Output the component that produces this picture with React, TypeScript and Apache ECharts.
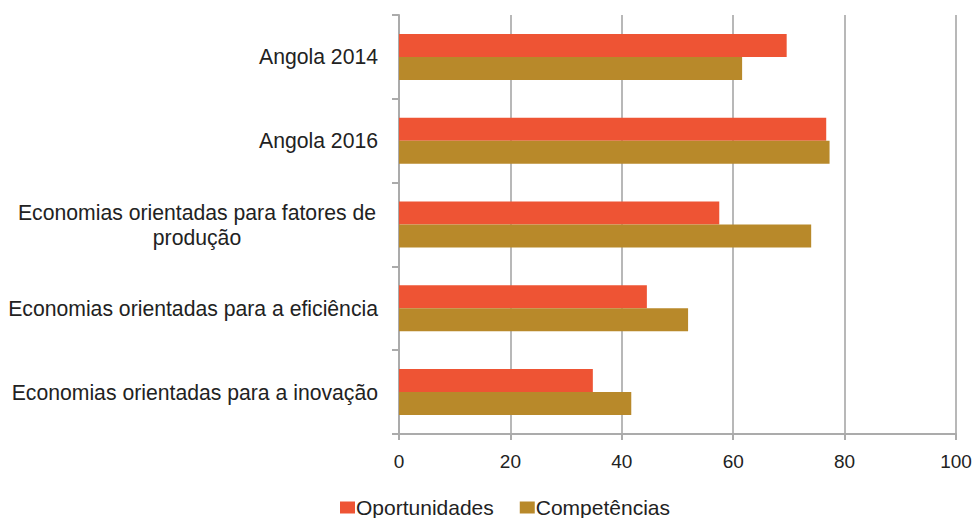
import React, { useEffect, useRef } from "react";
import * as echarts from "echarts";

const categories = [
  "Angola 2014",
  "Angola 2016",
  "Economias orientadas para fatores de\nprodução",
  "Economias orientadas para a eficiência",
  "Economias orientadas para a inovação",
];
const oportunidades = [69.6, 76.7, 57.5, 44.5, 34.8];
const competencias = [61.6, 77.3, 74.0, 51.9, 41.7];
const xTicks = { min: 0, max: 100, interval: 20 };

const FONT = "'Liberation Sans', Arial, Helvetica, sans-serif";

export default function App() {
  const ref = useRef<HTMLDivElement>(null);
  useEffect(() => {
    if (!ref.current) return;
    const chart = echarts.init(ref.current, null, { renderer: "svg" });
    chart.setOption({
      animation: false,
      textStyle: { fontFamily: FONT },
      grid: { left: 399, right: 19, top: 15, bottom: 84, containLabel: false },
      legend: {
        data: ["Oportunidades", "Competências"],
        top: 492,
        left: 335,
        icon: "rect",
        itemWidth: 15,
        itemHeight: 12,
        itemGap: 26,
        textStyle: { fontSize: 21, color: "#222", fontFamily: FONT, padding: [0, 0, 0, -4] },
      },
      xAxis: {
        type: "value",
        min: xTicks.min,
        max: xTicks.max,
        interval: xTicks.interval,
        axisLine: { show: true, lineStyle: { color: "#ababab", width: 2 } },
        axisTick: { show: true, length: 6, lineStyle: { color: "#ababab", width: 2 } },
        axisLabel: { fontSize: 19, color: "#222", margin: 18, fontFamily: FONT },
        splitLine: { show: true, lineStyle: { color: "#b8b8b8", width: 2 } },
      },
      yAxis: {
        type: "category",
        data: categories,
        inverse: true,
        axisLine: { show: true, lineStyle: { color: "#ababab", width: 2 } },
        axisTick: { show: true, length: 7, lineStyle: { color: "#ababab", width: 2 } },
        axisLabel: {
          fontSize: 21.2,
          color: "#222",
          margin: 21,
          fontFamily: FONT,
          lineHeight: 25,
          formatter: (v: string) =>
            v.includes("\n")
              ? v
                  .split("\n")
                  .map((l) => `{c|${l}}`)
                  .join("\n")
              : v,
          rich: {
            c: {
              width: 362,
              align: "center",
              fontSize: 21.2,
              lineHeight: 25,
              color: "#222",
              fontFamily: FONT,
            },
          },
        },
      },
      series: [
        {
          name: "Oportunidades",
          type: "bar",
          data: oportunidades,
          barWidth: 23,
          barGap: "0%",
          itemStyle: { color: "#EE5434" },
        },
        {
          name: "Competências",
          type: "bar",
          data: competencias,
          barWidth: 23,
          barGap: "0%",
          itemStyle: { color: "#B8892A" },
        },
      ],
    });
    return () => chart.dispose();
  }, []);
  return (
    <div
      ref={ref}
      style={{ position: "fixed", left: 0, top: 0, width: 975, height: 518, background: "#fff" }}
    />
  );
}
